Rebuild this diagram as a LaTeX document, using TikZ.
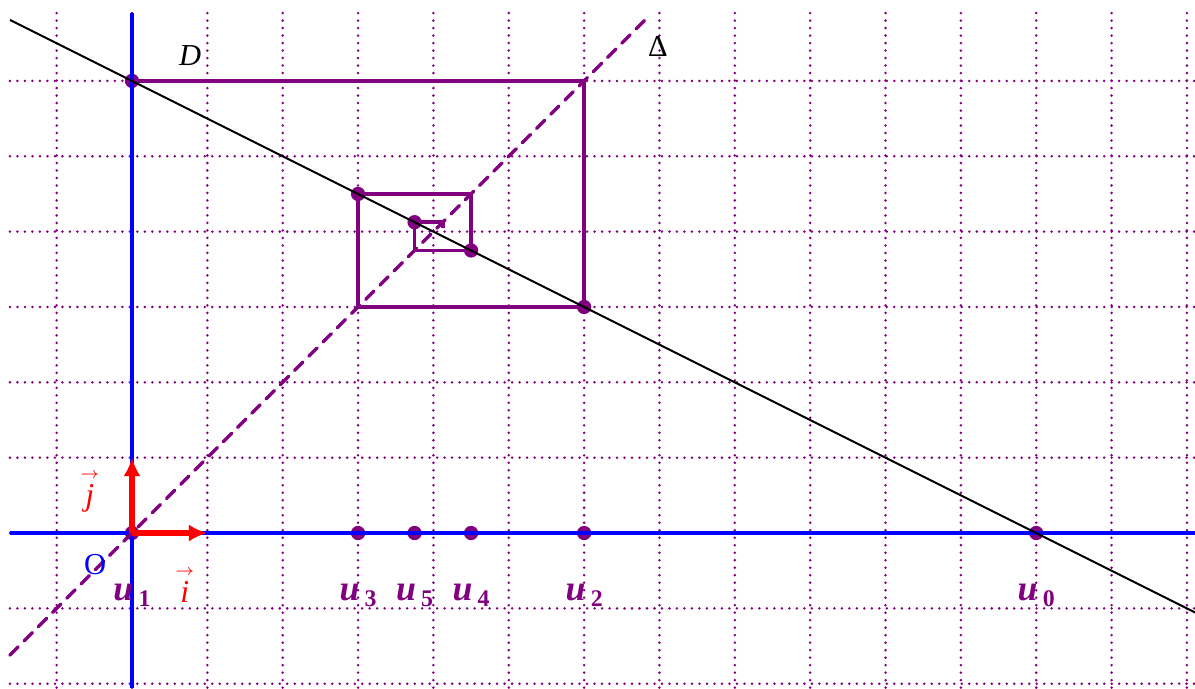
\documentclass[tikz,border=0pt]{standalone}
\usepackage{fontspec}
\setmainfont{Liberation Serif}
\usetikzlibrary{arrows.meta}
\definecolor{pur}{RGB}{128,0,128}
\newcommand\ulab[1]{{\fontsize{13.5}{13.5}\selectfont\bfseries\itshape u}\kern2pt\raisebox{-2.3pt}{\fontsize{9}{9}\selectfont\bfseries #1}}
\newcommand\vecl[1]{\fontsize{12}{12}\selectfont$\stackrel{\scriptscriptstyle\rightarrow}{\textit{#1}}$}
\begin{document}
\begin{tikzpicture}[
  gridline/.style={pur, line width=1.05pt, dash pattern=on 0pt off 2.83pt, line cap=round},
  axisline/.style={blue, line width=1.5pt},
  web/.style={pur, line width=1.3pt},
  deltaline/.style={pur, line width=1.3pt, dash pattern=on 4.4pt off 3.2pt, line cap=round},
  dline/.style={black, line width=0.75pt},
  vecarrow/.style={red, line width=2.2pt, -{Latex[length=7pt,width=6.5pt]}},
  ptdot/.style={circle, fill=pur, inner sep=0pt, minimum size=5.4pt},
  ulabel/.style={pur, anchor=base, inner sep=0pt},
  txt/.style={anchor=base, inner sep=0pt, font=\fontsize{11.5}{11.5}\selectfont}
]
\useasboundingbox (-1.752,-2.057) rectangle (14.107,7.074);
% grid
\foreach \x in {-1,0,...,14} \draw[gridline] (\x,6.9) -- (\x,-2.06);
\foreach \y in {-2,-1,...,6} \draw[gridline] (-1.62,\y) -- (14.11,\y);
% cobweb
\coordinate (c1) at (0,6);
\coordinate (c2) at (6,6);
\coordinate (c3) at (6,3);
\coordinate (c4) at (3,3);
\coordinate (c5) at (3,4.5);
\coordinate (c6) at (4.5,4.5);
\coordinate (c7) at (4.5,3.75);
\coordinate (c8) at (3.75,3.75);
\coordinate (c9) at (3.75,4.125);
\coordinate (c10) at (4.125,4.125);
\coordinate (c11) at (4.125,4.05);
\draw[web] (c1) -- (c2) -- (c3) -- (c4) -- (c5) -- (c6) -- (c7) -- (c8) -- (c9) -- (c10) -- (c11);
% points
\node[ptdot] (d1) at (c1) {};
\node[ptdot] (d2) at (c3) {};
\node[ptdot] (d3) at (c5) {};
\node[ptdot] (d4) at (c7) {};
\node[ptdot] (d5) at (c9) {};
\node[ptdot] (a0) at (12,0) {};
\node[ptdot] (a1) at (0,0) {};
\node[ptdot] (a2) at (6,0) {};
\node[ptdot] (a3) at (3,0) {};
\node[ptdot] (a4) at (4.5,0) {};
\node[ptdot] (a5) at (3.75,0) {};
% axes
\coordinate (xl) at (-1.62,0);
\coordinate (xr) at (14.11,0);
\coordinate (yb) at (0,-2.06);
\coordinate (yt) at (0,6.9);
\draw[axisline] (xl) -- (xr);
\draw[axisline] (yb) -- (yt);
% Delta
\coordinate (dl) at (-1.62,-1.62);
\coordinate (dr) at (6.86,6.86);
\draw[deltaline] (dl) -- (dr);
% D
\coordinate (Dl) at (-1.62,6.81);
\coordinate (Dr) at (14.11,-1.055);
\draw[dline] (Dl) -- (Dr);
% unit vectors
\coordinate (O) at (0,0);
\coordinate (ihat) at (1,0);
\coordinate (jhat) at (0,1);
\draw[vecarrow] (O) -- (ihat);
\draw[vecarrow] (O) -- (jhat);
% labels
\node[txt] (labD) at (0.77,6.20) {\itshape D};
\node[txt] (labDelta) at (6.98,6.32) {Δ};
\node[txt, blue] (labO) at (-0.49,-0.544) {O};
\node[red, anchor=base, inner sep=0pt] (labj) at (-0.56,0.37) {\vecl{j}};
\node[red, anchor=base, inner sep=0pt] (labi) at (0.70,-0.916) {\vecl{i}};
\node[ulabel] (l1) at (0,-0.89) {\ulab{1}};
\node[ulabel] (l3) at (3,-0.89) {\ulab{3}};
\node[ulabel] (l5) at (3.75,-0.89) {\ulab{5}};
\node[ulabel] (l4) at (4.5,-0.89) {\ulab{4}};
\node[ulabel] (l2) at (6,-0.89) {\ulab{2}};
\node[ulabel] (l0) at (12,-0.89) {\ulab{0}};
\end{tikzpicture}
\end{document}
